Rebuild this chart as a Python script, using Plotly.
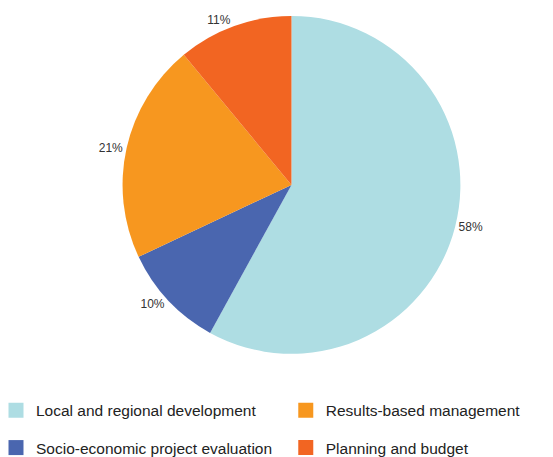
import plotly.graph_objects as go

labels = ["Local and regional development", "Socio-economic project evaluation",
          "Results-based management", "Planning and budget"]
values = [58, 10, 21, 11]
colors = ["#AEDDE3", "#4A66AF", "#F7971F", "#F26522"]

# legend layout (two rows, two columns)
legend_rows = [
    ["Local and regional development", "Results-based management"],
    ["Socio-economic project evaluation", "Planning and budget"],
]

fig = go.Figure()
fig.add_trace(go.Pie(
    labels=labels, values=values, sort=False, direction="clockwise", rotation=0,
    marker=dict(colors=colors, line=dict(width=0)),
    textinfo="percent", textposition="outside",
    textfont=dict(family="Liberation Sans, Arial, sans-serif", size=12, color="#333333"),
    showlegend=False, hoverinfo="label+percent",
    domain=dict(x=[0.1936, 0.8316], y=[0.2322, 1.0]),
))

color_of = dict(zip(labels, colors))
legend_font = dict(family="Liberation Sans, Arial, sans-serif", size=15.5, color="#222222")
col_x = [0.0, 0.524]
row_y = [(457 - 410) / 457, (457 - 449) / 457]
layout_legends = {}
k = 0
for r, row in enumerate(legend_rows):
    for c, name in enumerate(row):
        k += 1
        lg = "legend" if k == 1 else f"legend{k}"
        fig.add_trace(go.Scatter(
            x=[None], y=[None], mode="markers", name=name, legend=lg,
            marker=dict(symbol="square", size=15, color=color_of[name]),
            hoverinfo="skip",
        ))
        layout_legends[lg] = dict(
            orientation="h", xanchor="left", yanchor="middle",
            x=col_x[c], y=row_y[r], font=legend_font, indentation=-12,
            itemclick=False, itemdoubleclick=False,
            bgcolor="rgba(0,0,0,0)", borderwidth=0,
        )

fig.update_layout(
    width=553, height=457,
    margin=dict(l=0, r=0, t=0, b=0),
    paper_bgcolor="white", plot_bgcolor="white",
    xaxis=dict(visible=False), yaxis=dict(visible=False),
    **layout_legends,
)
fig.write_html("out.html")
